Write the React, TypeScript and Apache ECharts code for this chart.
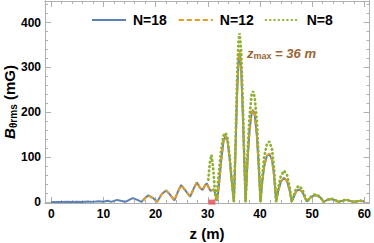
import React, { useEffect, useRef } from "react";
import * as echarts from "echarts";

// ---- data ----
const z18 = [0, 1, 2, 3, 4, 5, 6, 7, 8, 9, 10, 10.8, 11.5, 12.6, 13.3, 14.2, 15.6, 16.5, 17.3, 17.9,
  18.6, 19.5, 20.3, 21.2, 22, 22.8, 23.6, 24.3, 24.9, 25.7, 26.6, 27.3, 27.9, 28.5, 29, 29.4, 29.8, 30.2, 30.5, 30.9,
  31.2, 31.5, 31.8, 32.2, 32.6, 33.0, 33.4, 33.8, 34.2, 34.6, 35.0, 35.3, 35.6, 35.9, 36.1, 36.4, 36.7, 37.0, 37.25, 37.6,
  38.0, 38.4, 38.7, 39.0, 39.4, 39.8, 40.1, 40.4, 40.8, 41.3, 41.8, 42.3, 42.7, 43.1, 43.5, 44.0, 44.6, 45.2, 45.7, 46.1,
  46.6, 47.0, 47.5, 48.1, 48.6, 49, 49.6, 50.2, 50.8, 51.5, 52.2, 53, 53.6, 54.3, 55, 56.5, 58, 59.3, 60];
const b18 = [0, 0.5, 0, 0.8, 0.2, 1, 0.3, 1.5, 0.5, 2, 1, 3, 0.5, 5, 3, 0.5, 9, 5, 0.5, 8,
  15, 9, 1, 18, 26, 16, 4, 24, 38, 26, 12, 30, 44, 32, 27, 36, 42, 32, 25, 27,
  28, 15, 3, 45, 95, 135, 147, 135, 95, 45, 1, 108, 235, 315, 330, 295, 198, 88, 1, 88,
  158, 198, 205, 193, 148, 69, 1, 40, 79, 102, 107, 94, 59, 1, 25, 45, 54, 46, 25, 1,
  15, 25, 28, 23, 10, 1, 9, 14, 15, 11, 1, 5, 7, 5, 0.5, 5, 0.5, 3, 1.5];

const z12 = [17.6, 18.0,
  18.6, 19.5, 20.3, 21.2, 22, 22.8, 23.6, 24.3, 24.9, 25.7, 26.6, 27.3, 27.9, 28.5, 29, 29.4, 29.8, 30.2, 30.5, 30.9,
  31.2, 31.5, 31.8, 32.2, 32.6, 33.0, 33.4, 33.8, 34.2, 34.6, 35.0, 35.3, 35.6, 35.9, 36.1, 36.4, 36.7, 37.0, 37.25, 37.6,
  38.0, 38.4, 38.7, 39.0, 39.4, 39.8, 40.1, 40.4, 40.8, 41.3, 41.8, 42.3, 42.7, 43.1, 43.5, 44.0, 44.6, 45.2, 45.7, 46.1,
  46.6, 47.0, 47.5, 48.1, 48.6, 49, 49.6, 50.2, 50.8, 51.5, 52.2, 53, 53.6, 54.3, 55, 56.5, 58, 59.3, 60];
const b12 = [3, 9,
  15, 9, 1, 18, 26, 16, 4, 24, 38, 26, 12, 30, 44, 32, 27, 36, 42, 32, 25, 27,
  28, 15, 3, 45, 95, 135, 147, 135, 95, 45, 1, 110, 240, 320, 337, 300, 202, 90, 1, 90,
  160, 200, 207, 195, 150, 70, 1, 40, 80, 103, 108, 95, 60, 1, 25, 46, 55, 47, 25, 1,
  15, 25, 28, 23, 10, 1, 9, 14, 15, 11, 1, 5, 7, 5, 0.5, 5, 0.5, 3, 1.5];

const z8 = [30.1, 30.4, 30.7, 31.0, 31.3, 31.6, 32.0, 32.5, 33.0, 33.4, 33.8, 34.2, 34.6, 35.0,
  35.3, 35.6, 35.9, 36.1, 36.4, 36.7, 37.0, 37.25, 37.6, 38.0, 38.4, 38.7, 39.0, 39.4, 39.8, 40.1,
  40.4, 40.8, 41.3, 41.8, 42.3, 42.7, 43.1, 43.5, 44.0, 44.6, 45.2, 45.7, 46.1,
  46.6, 47.0, 47.5, 48.1, 48.6, 49, 49.6, 50.2, 50.8, 51.5, 52.2, 53, 53.6, 54.3, 55, 56.5, 58, 59.3, 60];
const b8 = [50, 88, 105, 80, 35, 2, 50, 110, 148, 154, 142, 100, 48, 1,
  125, 270, 360, 376, 335, 225, 100, 1, 105, 190, 240, 247, 232, 180, 85, 1,
  50, 100, 128, 135, 118, 75, 1, 32, 58, 70, 60, 32, 1,
  19, 32, 36, 29, 13, 1, 10, 16, 17, 12, 1, 5.5, 8, 5.5, 0.5, 5.5, 0.5, 3, 1.5];

const seriesNames = ["N=18", "N=12", "N=8"];
const markerZ = [30.8];
const markerB = [0];

const xMajor = [0, 10, 20, 30, 40, 50, 60];
const xMinor = [2, 4, 6, 8, 12, 14, 16, 18, 22, 24, 26, 28, 32, 34, 36, 38, 42, 44, 46, 48, 52, 54, 56, 58];
const yMajor = [0, 100, 200, 300, 400];
const yMinor = [20, 40, 60, 80, 120, 140, 160, 180, 220, 240, 260, 280, 320, 340, 360, 380, 420, 440];

const FONT = "Liberation Sans, Arial, sans-serif";
const FRAME = "#b0b0b0";
const X_MIN = -1.2, X_MAX = 61;
const Y_MIN = -2, Y_MAX = 448;

function pairs(xs: number[], ys: number[]) {
  return xs.map((x, i) => [x, ys[i]]);
}

function xAx(pos: "top" | "bottom", ticks: number[], len: number, labels: boolean) {
  return {
    type: "value",
    position: pos,
    min: X_MIN,
    max: X_MAX,
    axisLine: { show: true, onZero: false, lineStyle: { color: FRAME, width: 1 } },
    axisTick: { show: true, inside: true, length: len, customValues: ticks, lineStyle: { color: FRAME } },
    axisLabel: labels
      ? { show: true, customValues: xMajor, fontSize: 12, fontWeight: "bold", color: "#000", fontFamily: FONT, margin: 5 }
      : { show: false },
    splitLine: { show: false },
  };
}
function yAx(pos: "left" | "right", ticks: number[], len: number, labels: boolean) {
  return {
    type: "value",
    position: pos,
    min: Y_MIN,
    max: Y_MAX,
    axisLine: { show: true, onZero: false, lineStyle: { color: FRAME, width: 1 } },
    axisTick: { show: true, inside: true, length: len, customValues: ticks, lineStyle: { color: FRAME } },
    axisLabel: labels
      ? { show: true, customValues: yMajor, fontSize: 12, fontWeight: "bold", color: "#000", fontFamily: FONT, margin: 4 }
      : { show: false },
    splitLine: { show: false },
  };
}

export default function App() {
  const ref = useRef<HTMLDivElement>(null);
  useEffect(() => {
    if (!ref.current) return;
    const chart = echarts.init(ref.current, null, { renderer: "svg" });
    chart.setOption({
      animation: false,
      backgroundColor: "#fff",
      grid: { left: 45, right: 3, top: 1, bottom: 40, containLabel: false },
      xAxis: [
        xAx("bottom", xMajor, 6, true),
        xAx("bottom", xMinor, 3, false),
        xAx("top", xMajor, 6, false),
        xAx("top", xMinor, 3, false),
      ],
      yAxis: [
        yAx("left", yMajor, 6, true),
        yAx("left", yMinor, 3, false),
        yAx("right", yMajor, 6, false),
        yAx("right", yMinor, 3, false),
      ],
      legend: {
        data: seriesNames,
        left: 86,
        top: 8,
        itemWidth: 34,
        itemHeight: 14,
        itemGap: 11,
        itemStyle: { opacity: 0 },
        textStyle: { fontSize: 14, fontWeight: "bold", color: "#000", fontFamily: FONT, padding: [0, 0, 0, 2] },
      },
      series: [
        {
          name: seriesNames[0],
          type: "line",
          data: pairs(z18, b18),
          symbol: "none",
          lineStyle: { color: "#5E81B5", width: 2 },
          itemStyle: { color: "#5E81B5" },
        },
        {
          name: seriesNames[1],
          type: "line",
          data: pairs(z12, b12),
          symbol: "none",
          lineStyle: { color: "#E19C24", width: 2, type: [5, 3] },
          itemStyle: { color: "#E19C24" },
        },
        {
          name: seriesNames[2],
          type: "line",
          data: pairs(z8, b8),
          symbol: "none",
          lineStyle: { color: "#8FB131", width: 2.8, type: [0.5, 3.8], cap: "round" },
          itemStyle: { color: "#8FB131" },
        },
        {
          name: "marker",
          type: "scatter",
          data: pairs(markerZ, markerB),
          symbol: "rect",
          symbolSize: [7, 5],
          itemStyle: { color: "#E8474F" },
          silent: true,
          z: 5,
        },
      ],
      graphic: [
        {
          type: "text",
          x: 207,
          y: 233,
          style: {
            text: "z (m)",
            fontSize: 15,
            fontWeight: "bold",
            fontFamily: FONT,
            fill: "#000",
            align: "center",
            verticalAlign: "middle",
          },
        },
        {
          type: "text",
          x: 9,
          y: 102,
          rotation: Math.PI / 2,
          style: {
            text: "{b|B}{s|θrms}{t| (mG)}",
            align: "center",
            verticalAlign: "middle",
            fill: "#000",
            rich: {
              b: { fontSize: 15, fontWeight: "bold", fontStyle: "italic", fontFamily: FONT, fill: "#000" },
              s: { fontSize: 10, fontWeight: "bold", fontFamily: FONT, fill: "#000", padding: [8, 0, 0, 0] },
              t: { fontSize: 15, fontWeight: "bold", fontFamily: FONT, fill: "#000" },
            },
          },
        },
        {
          type: "text",
          x: 247,
          y: 53,
          style: {
            text: "{z|z}{s|max}{e| = 36 }{z|m}",
            align: "left",
            verticalAlign: "middle",
            fill: "#996633",
            rich: {
              z: { fontSize: 13, fontWeight: "bold", fontStyle: "italic", fontFamily: FONT, fill: "#996633" },
              s: { fontSize: 9, fontWeight: "bold", fontFamily: FONT, fill: "#996633", padding: [6, 0, 0, 0] },
              e: { fontSize: 13, fontWeight: "bold", fontStyle: "italic", fontFamily: FONT, fill: "#996633" },
            },
          },
        },
      ],
    });
    return () => chart.dispose();
  }, []);
  return <div ref={ref} style={{ position: "absolute", left: 0, top: 0, width: 374, height: 243 }} />;
}
